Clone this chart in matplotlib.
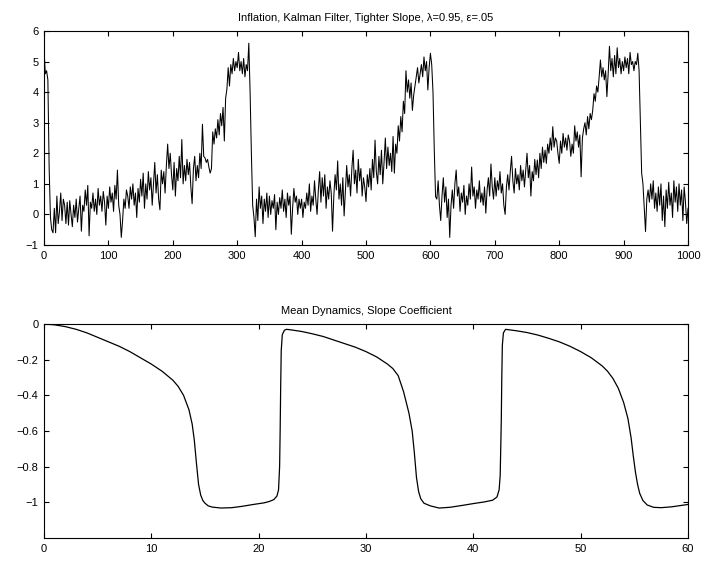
import numpy as np
import matplotlib
matplotlib.use("Agg")
import matplotlib.pyplot as plt
from matplotlib.ticker import FuncFormatter

# inflation path, every 2 periods (t = 0 .. 1000)
infl_step = 2
inflation = [
    # 0-48
    5.4, 4.6, 4.7, 4.4, 1.5, -0.1, -0.5, -0.6, 0.2, -0.6, 0.6, -0.3, 0.1,
    0.7, -0.2, 0.5, 0.3, -0.3, 0.4, -0.35, 0.45, 0.0, -0.4, 0.3, -0.1,
    # 50-98
    0.5, -0.25, 0.2, 0.6, -0.55, 0.3, 0.1, 0.8, 0.3, 0.95, -0.7, 0.4, 0.2,
    0.7, 0.1, 0.5, 0.0, 0.85, 0.3, 0.6, 0.1, 0.75, 0.4, -0.35, 0.6,
    # 100-148
    0.2, 0.9, 0.4, 0.7, 0.1, 0.95, 0.5, 1.45, 0.3, 0.0, -0.75, -0.2, 0.5,
    0.2, 0.8, 0.6, 0.2, 0.9, 0.5, 1.0, 0.3, 0.7, -0.1, 0.85, 0.4,
    # 150-198
    1.15, 0.6, 1.35, 0.2, 1.0, 0.5, 1.4, 0.8, 1.2, 0.3, 1.0, 1.7, 0.7,
    1.3, 0.5, 0.15, 1.45, 1.0, 1.4, 0.7, 1.6, 2.3, 1.5, 2.0, 1.3,
    # 200-248
    0.8, 1.7, 0.6, 1.5, 1.1, 1.9, 1.2, 2.45, 1.0, 1.6, 1.1, 1.8, 1.3,
    1.7, 0.9, 0.35, 1.5, 1.9, 1.1, 1.6, 1.2, 2.0, 1.5, 2.95, 1.9,
    # 250-298
    1.85, 1.7, 1.8, 1.55, 1.35, 1.5, 2.7, 2.3, 2.8, 2.5, 3.1, 2.6, 3.3,
    2.9, 3.5, 2.4, 3.8, 4.1, 4.8, 4.2, 4.9, 4.6, 5.1, 4.7, 5.0,
    # 300-348
    4.8, 5.3, 4.7, 5.0, 4.6, 5.1, 4.5, 4.9, 4.7, 5.6, 4.0, 2.0, 0.3,
    -0.1, -0.73, 0.5, -0.2, 0.9, 0.2, 0.6, -0.3, 0.5, 0.1, 0.7, -0.1,
    # 350-398
    0.6, 0.0, 0.45, 0.2, 0.65, -0.5, 0.4, 0.0, 0.55, 0.2, 0.8, 0.1, 0.5,
    -0.1, 0.7, 0.3, 0.6, -0.65, 0.2, 0.85, 0.4, 0.6, 0.0, 0.5, 0.2,
    # 400-448
    0.5, -0.1, 0.4, 0.2, 0.7, 0.3, 1.0, 0.1, 0.6, 0.3, 1.1, 0.5, 0.0,
    0.8, 1.4, 0.4, 1.2, 0.6, 1.3, 0.2, 0.9, 0.5, 1.1, 0.7, -0.55,
    # 450-498
    0.6, 1.3, 0.8, 1.75, 0.5, 1.0, 0.3, 1.2, -0.05, 0.8, 1.6, 0.9, 1.3,
    0.6, 1.5, 2.1, 1.0, 1.45, 0.7, 1.8, 1.1, 1.5, 0.6, 1.2, 0.9,
    # 500-548
    0.42, 1.3, 0.9, 1.5, 0.8, 1.8, 1.2, 2.43, 1.4, 1.0, 1.9, 1.3, 2.1,
    1.0, 1.7, 2.5, 1.5, 2.2, 1.6, 2.0, 1.4, 2.55, 1.35, 2.3, 2.0,
    # 550-598
    2.9, 2.4, 3.2, 2.7, 3.7, 3.3, 4.7, 4.0, 4.4, 3.8, 4.3, 3.4, 3.9,
    4.2, 4.5, 4.8, 4.3, 4.6, 4.9, 4.5, 5.15, 4.7, 5.0, 4.07, 4.8,
    # 600-648
    5.27, 4.9, 4.0, 2.1, 0.58, 0.5, 1.1, 0.3, -0.2, 0.6, 1.2, 0.4, 0.9,
    -0.1, 0.5, -0.75, 0.3, 0.8, 0.2, 1.0, 1.45, 0.6, 0.9, 0.1, 0.7,
    # 650-698
    0.4, 0.95, 0.0, 0.6, 0.3, 1.0, 0.5, 1.55, 0.6, 0.9, 0.2, 0.8, 0.5,
    1.1, 0.4, 0.7, 0.3, 0.9, 0.04, 0.8, 1.2, 0.6, 1.65, 0.9, 0.5,
    # 700-748
    1.2, 0.6, 1.1, 0.8, 1.4, 0.7, 1.0, 0.3, 0.0, 0.9, 1.3, 0.8, 1.4,
    1.9, 1.1, 0.7, 1.5, 1.0, 1.3, 0.8, 1.6, 1.1, 1.45, 0.9, 1.45,
    # 750-798
    2.0, 1.2, 1.6, 0.6, 1.4, 1.1, 1.8, 1.3, 1.78, 1.2, 2.0, 1.5, 2.2,
    1.7, 2.1, 1.67, 2.3, 2.0, 2.5, 2.1, 2.87, 2.2, 2.5, 2.4, 2.0,
    # 800-848
    1.67, 2.4, 2.0, 2.65, 2.2, 2.5, 2.1, 2.6, 2.4, 1.9, 2.3, 2.0, 2.9,
    2.4, 2.7, 2.2, 2.6, 1.23, 2.5, 2.8, 3.0, 2.6, 3.2, 2.8, 3.3,
    # 850-898
    3.1, 3.4, 3.95, 3.7, 4.2, 4.0, 4.5, 5.05, 4.5, 4.8, 4.4, 4.7, 3.85,
    4.6, 5.5, 4.7, 5.1, 4.5, 5.2, 4.6, 5.45, 4.8, 5.1, 4.6, 5.0,
    # 900-948
    4.7, 5.15, 4.8, 5.1, 4.6, 5.3, 4.9, 5.0, 4.7, 5.0, 4.9, 5.27, 4.7,
    3.0, 1.35, 1.0, 0.2, -0.56, 0.5, 0.8, 0.4, 1.0, 0.5, 1.1, 0.2,
    # 950-998
    0.7, 0.1, 0.9, 0.3, 1.0, -0.2, 0.6, -0.4, 0.8, 0.2, 1.05, 0.3, 0.7,
    -0.1, 1.1, 0.4, 0.9, 0.1, 1.0, 0.3, 0.8, -0.2, 0.9, 0.4, -0.3,
    # 1000
    0.2,
]

# mean dynamics of the slope coefficient
md_time = [
    0, 1, 2, 3, 4, 5, 6, 7, 8, 9, 10, 11, 12, 12.5, 13, 13.5, 13.8, 14.0,
    14.2, 14.4, 14.6, 14.8, 15.0, 15.3, 15.7, 16.5, 17.5, 18.5, 19.5, 20.5,
    21.0, 21.4, 21.7, 21.85, 21.95, 22.0, 22.05, 22.1, 22.2, 22.4, 22.6,
    23, 24, 25, 26, 27, 28, 29, 30, 31, 32, 32.5, 33, 33.5, 34, 34.3, 34.5,
    34.7, 34.9, 35.1, 35.4, 36.0, 36.8, 37.8, 39, 40, 41, 41.8, 42.2, 42.4,
    42.5, 42.6, 42.65, 42.7, 42.8, 43.0, 44, 45, 46, 47, 48, 49, 50, 51, 52,
    52.5, 53, 53.5, 54, 54.4, 54.7, 54.9, 55.1, 55.3, 55.5, 55.8, 56.2, 56.8,
    57.5, 58.5, 59.3, 60,
]
md_slope = [
    0.0, -0.005, -0.015, -0.03, -0.05, -0.075, -0.10, -0.125, -0.155, -0.19,
    -0.225, -0.265, -0.315, -0.35, -0.40, -0.48, -0.56, -0.65,
    -0.78, -0.90, -0.96, -0.99, -1.005, -1.02, -1.027, -1.032, -1.03,
    -1.022, -1.012, -1.003,
    -0.995, -0.985, -0.965, -0.93, -0.8, -0.6, -0.35, -0.15, -0.06, -0.035,
    -0.03,
    -0.033, -0.042, -0.055, -0.07, -0.09, -0.11, -0.13, -0.155, -0.185,
    -0.225, -0.25, -0.29, -0.38, -0.5, -0.6, -0.72,
    -0.86, -0.94, -0.98, -1.005, -1.02, -1.032, -1.028, -1.017, -1.007,
    -0.998, -0.988, -0.97, -0.93,
    -0.85, -0.55, -0.3, -0.12, -0.05, -0.03, -0.038, -0.048, -0.062, -0.08,
    -0.1, -0.125, -0.155, -0.19, -0.235,
    -0.265, -0.305, -0.36, -0.44, -0.53, -0.64, -0.74, -0.83, -0.9, -0.95,
    -0.99, -1.015, -1.028,
    -1.03, -1.025, -1.018, -1.012,
]

top_title = "Inflation, Kalman Filter, Tighter Slope, \u03bb=0.95, \u03b5=.05"
bottom_title = "Mean Dynamics, Slope Coefficient"

plt.rcParams['font.family'] = ['Liberation Sans', 'DejaVu Sans']
plt.rcParams['font.size'] = 8
plt.rcParams['axes.linewidth'] = 0.8


def matlab_fmt(v, pos):
    s = "%g" % round(v, 6)
    return s.replace("-", "\u2212")


def style(ax):
    ax.tick_params(direction='in', top=True, right=True, length=3.5,
                   width=0.8, pad=4, labelsize=8)
    ax.xaxis.set_major_formatter(FuncFormatter(matlab_fmt))
    ax.yaxis.set_major_formatter(FuncFormatter(matlab_fmt))


fig = plt.figure(figsize=(7.03, 5.61), dpi=100)

# top panel
ax1 = fig.add_axes([0.0626, 0.5633, 0.9161, 0.3815])
t = np.arange(len(inflation)) * infl_step
ax1.plot(t, inflation, color='k', lw=0.75)
ax1.set_xlim(0, 1000)
ax1.set_ylim(-1, 6)
ax1.set_xticks(np.arange(0, 1001, 100))
ax1.set_yticks(np.arange(-1, 7, 1))
ax1.set_title(top_title, fontsize=8, pad=7)
style(ax1)

# bottom panel
ax2 = fig.add_axes([0.0626, 0.041, 0.9161, 0.3815])
ax2.plot(md_time, md_slope, color='k', lw=0.9)
ax2.set_xlim(0, 60)
ax2.set_ylim(-1.2, 0)
ax2.set_xticks(np.arange(0, 61, 10))
ax2.set_yticks([-1, -0.8, -0.6, -0.4, -0.2, 0])
ax2.set_title(bottom_title, fontsize=8, pad=7)
style(ax2)

fig.savefig("out.png", dpi=100)
